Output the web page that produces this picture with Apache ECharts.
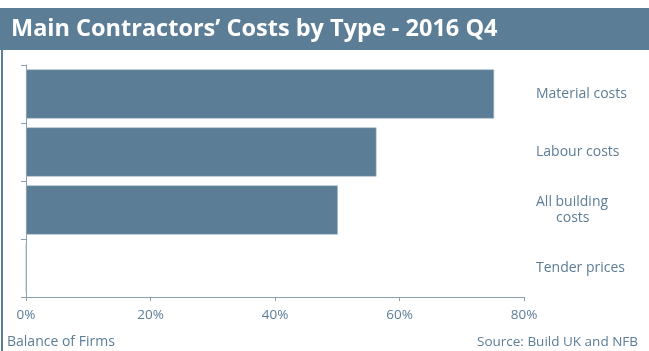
<!DOCTYPE html>
<html>
<head>
<meta charset="utf-8">
<script src="https://cdn.jsdelivr.net/npm/echarts@6/dist/echarts.min.js"></script>
<style>
  html, body { margin: 0; padding: 0; background: #ffffff; }
  #chart { width: 649px; height: 351px; }
</style>
</head>
<body>
<div id="chart"></div>
<script>
// Cost types, top to bottom
var categories = ['Material costs', 'Labour costs', 'All building\ncosts', 'Tender prices'];
// Balance of firms reporting increases (%)
var balanceValues = [75.2, 56.3, 50.1, 0];
// Horizontal axis ticks (%)
var xTicks = [0, 20, 40, 60, 80];

var BLUE = '#5b7d96';
var FONT = '"Open Sans", Lato, sans-serif';

var chart = echarts.init(document.getElementById('chart'), null, { renderer: 'canvas' });

chart.setOption({
  animation: false,
  backgroundColor: '#ffffff',
  title: {
    text: 'Main Contractors\u2019 Costs by Type - 2016 Q4',
    left: 6,
    top: 12,
    textStyle: { color: '#ffffff', fontFamily: FONT, fontWeight: 'bold', fontSize: 23.5 }
  },
  graphic: [
    { type: 'rect', z: -1, shape: { x: 0, y: 8, width: 649, height: 42 }, style: { fill: BLUE } },
    { type: 'rect', z: -1, shape: { x: 1, y: 50, width: 2, height: 301 }, style: { fill: BLUE } },
    { type: 'text', left: 7, top: 335, style: { text: 'Balance of Firms', fill: BLUE, font: '14px ' + FONT } },
    { type: 'text', right: 11, top: 335, style: { text: 'Source: Build UK and NFB', fill: BLUE, font: '13.5px ' + FONT } }
  ],
  grid: { left: 26, right: 125, top: 65, bottom: 54, containLabel: false },
  xAxis: {
    type: 'value',
    min: xTicks[0],
    max: xTicks[xTicks.length - 1],
    interval: xTicks[1] - xTicks[0],
    splitLine: { show: false },
    axisLine: { show: true, lineStyle: { color: '#8aa0b0', width: 1 } },
    axisTick: { show: true, length: 4, lineStyle: { color: '#8aa0b0' } },
    axisLabel: { color: BLUE, fontFamily: FONT, fontSize: 13.5, margin: 11, formatter: '{value}%' }
  },
  yAxis: [
    {
      type: 'category',
      data: categories,
      inverse: true,
      position: 'left',
      axisLine: { show: true, lineStyle: { color: '#8aa0b0', width: 1 } },
      axisTick: { show: true, length: 5, lineStyle: { color: '#8aa0b0' } },
      axisLabel: { show: false }
    },
    {
      type: 'category',
      data: categories,
      inverse: true,
      position: 'right',
      axisLine: { show: false },
      axisTick: { show: false },
      axisLabel: {
        show: true,
        align: 'left',
        margin: 12,
        color: BLUE,
        fontFamily: FONT,
        fontSize: 14,
        lineHeight: 16,
        formatter: function (v) {
          var parts = v.split('\n');
          if (parts.length === 1) return v;
          return '{a|' + parts[0] + '}\n{b|' + parts[1] + '}';
        },
        rich: {
          a: { color: BLUE, fontFamily: FONT, fontSize: 14, lineHeight: 16 },
          b: { color: BLUE, fontFamily: FONT, fontSize: 14, lineHeight: 16, padding: [0, 0, 0, 20] }
        }
      }
    }
  ],
  series: [
    {
      type: 'bar',
      yAxisIndex: 0,
      data: balanceValues,
      barCategoryGap: '15%',
      itemStyle: { color: BLUE, borderColor: '#a9bccb', borderWidth: 0.6 }
    }
  ]
});
</script>
</body>
</html>
